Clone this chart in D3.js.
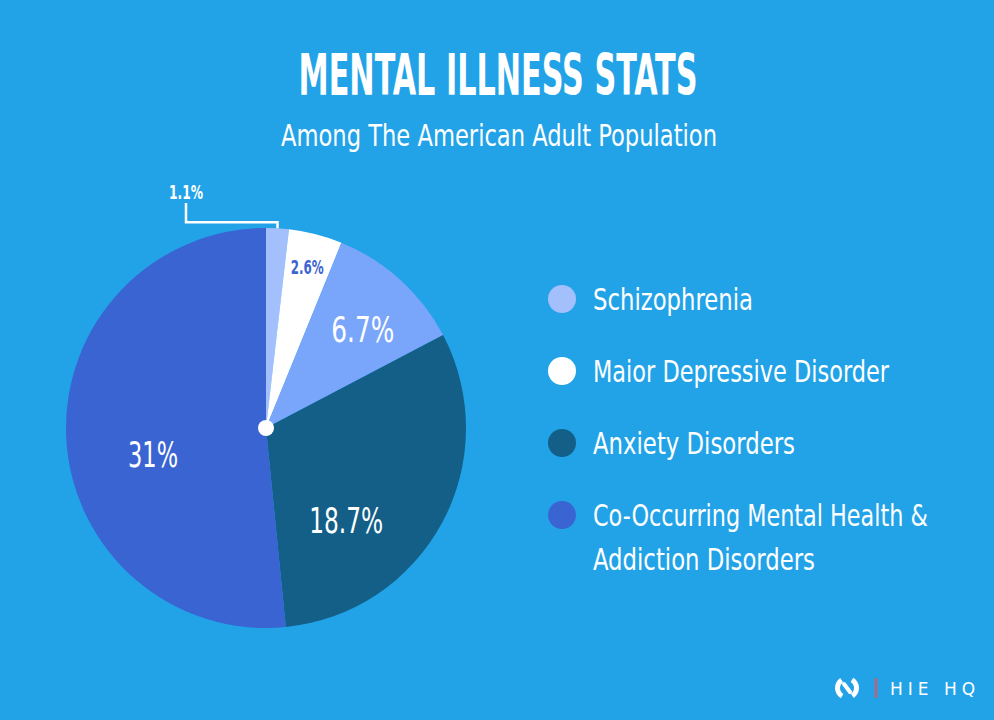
<!DOCTYPE html>
<html>
<head>
<meta charset="utf-8">
<script src="https://cdn.jsdelivr.net/npm/d3@7"></script>
<style>
  body { margin: 0; background: #22a3e8; }
  svg text { font-family: "DejaVu Sans Condensed", "DejaVu Sans", sans-serif; font-stretch: condensed; fill: #fff; }
</style>
</head>
<body>
<svg id="chart" width="994" height="720"></svg>
<script>
// pie data
var slices = ["Schizophrenia", "Major Depressive Disorder", "Other", "Anxiety Disorders", "Co-Occurring"];
var values = [1.1, 2.6, 6.7, 18.7, 31];
var labels = ["1.1%", "2.6%", "6.7%", "18.7%", "31%"];
var colors = ["#a3c0fd", "#ffffff", "#79a6fb", "#135f87", "#3a64d2"];

// legend
var legendNames = [["Schizophrenia"], ["Maior Depressive Disorder"], ["Anxiety Disorders"], ["Co-Occurring Mental Health &", "Addiction Disorders"]];
var legendColors = ["#a3c0fd", "#ffffff", "#135f87", "#3a64d2"];

var svg = d3.select("#chart");
var W = 994, H = 720;

// narrow text: draw at origin, then scale it horizontally to width w
function ntext(parent, x, y, w, txt) {
  var t = parent.append("text").text(txt);
  t.attr("transform", "translate(" + x + "," + y + ")");
  t._w = w;
  return t;
}
function squeeze(t) {
  var n = t.node().getComputedTextLength();
  var k = n > 0 ? t._w / n : 1;
  t.attr("transform", t.attr("transform") + " scale(" + k + ",1)");
  return t;
}

svg.append("rect").attr("width", W).attr("height", H).attr("fill", "#22a3e8");

// title
squeeze(ntext(svg, 498, 95, 399, "MENTAL ILLNESS STATS").attr("text-anchor", "middle")
  .style("font-size", "57px").style("font-weight", "bold"));
squeeze(ntext(svg, 499, 146, 436, "Among The American Adult Population").attr("text-anchor", "middle")
  .style("font-size", "31px"));

// pie
var cx = 266, cy = 428, R = 200;
var g = svg.append("g").attr("transform", "translate(" + cx + "," + cy + ")");
var pie = d3.pie().sort(null).value(function(d) { return d; });
var arcs = pie(values);
var arc = d3.arc().innerRadius(0).outerRadius(R);

g.selectAll("path.slice").data(arcs).enter().append("path")
  .attr("class", "slice")
  .attr("d", arc)
  .attr("fill", function(d, i) { return colors[i]; });

g.append("circle").attr("r", 8).attr("fill", "#fff");

// labels inside slices (radius and angle nudges per slice)
var place = [null, {r: 166, a: 0}, {r: 138, a: 0.04}, {r: 122, a: 0.36}, {r: 116, a: -0.18}];
var fs = [18, 19, 35, 35, 35];
var lw = [34, 33, 63, 74, 50];
arcs.forEach(function(d, i) {
  if (!place[i]) return;
  var ang = (d.startAngle + d.endAngle) / 2 + place[i].a;
  var x = Math.sin(ang) * place[i].r, y = -Math.cos(ang) * place[i].r + fs[i] * 0.36;
  squeeze(ntext(g, x, y, lw[i], labels[i])
    .attr("text-anchor", "middle")
    .style("font-size", fs[i] + "px")
    .style("font-weight", i == 1 ? "bold" : "normal")
    .style("fill", i == 1 ? "#3a64d2" : "#fff"));
});

// 1.1% call-out with bracket line
var a0 = arcs[0];
var mid0 = (a0.startAngle + a0.endAngle) / 2;
var tipX = Math.sin(mid0) * R, tipY = -Math.cos(mid0) * R;
g.append("path")
  .attr("d", "M" + (-80) + "," + (-225) + "V" + (tipY - 6) + "H" + tipX + "V" + (tipY))
  .attr("fill", "none").attr("stroke", "#fff").attr("stroke-width", 2.5);
squeeze(ntext(g, -80, -229, lw[0], labels[0])
  .attr("text-anchor", "middle")
  .style("font-size", "19px").style("font-weight", "bold"));

// legend
var lg = svg.append("g");
var rowY = d3.scaleLinear().domain([0, 1]).range([299, 371]);
var legW = [[160], [296], [202], [335, 222]];
legendNames.forEach(function(lines, i) {
  var y = rowY(i);
  lg.append("circle").attr("cx", 562).attr("cy", y).attr("r", 14).attr("fill", legendColors[i]);
  lines.forEach(function(t, j) {
    squeeze(ntext(lg, 593, y + 11 + j * 44, legW[i][j], t).style("font-size", "30px"));
  });
});

// logo
var logo = svg.append("g").attr("transform", "translate(847,688)");
logo.append("path").attr("d", d3.arc().innerRadius(7).outerRadius(12).startAngle(-2.6).endAngle(-0.6)())
  .attr("fill", "#fff");
logo.append("path").attr("d", d3.arc().innerRadius(7).outerRadius(12).startAngle(0.55).endAngle(2.55)())
  .attr("fill", "#fff");
logo.append("line").attr("x1", -3).attr("y1", -4).attr("x2", 3).attr("y2", 4)
  .attr("stroke", "#fff").attr("stroke-width", 4).attr("stroke-linecap", "round");
logo.append("rect").attr("x", 28).attr("y", -10).attr("width", 2).attr("height", 20).attr("fill", "#e8505b");
logo.append("text").attr("x", 43).attr("y", 7)
  .style("font-family", "'DejaVu Sans', sans-serif").style("font-stretch", "normal")
  .style("font-size", "17px").style("letter-spacing", "5px")
  .text("HIE HQ");
</script>
</body>
</html>
